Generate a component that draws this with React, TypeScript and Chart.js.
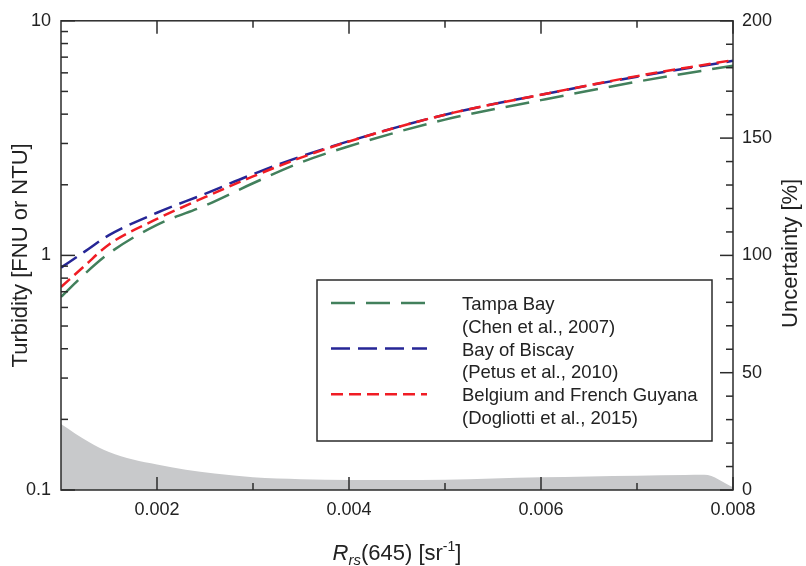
import React, { useEffect, useRef } from 'react';
import { Chart, registerables } from 'chart.js';

Chart.register(...registerables);

// ---- data ----
const rrsGrid = [0.001, 0.00125, 0.0015, 0.002, 0.0025, 0.003, 0.0035, 0.004, 0.005, 0.006, 0.007, 0.008];
const tampaBay = [0.665, 0.836, 1.02, 1.35, 1.63, 2.03, 2.49, 2.92, 3.79, 4.59, 5.5, 6.44];
const bayOfBiscay = [0.887, 1.04, 1.22, 1.52, 1.83, 2.22, 2.64, 3.07, 3.98, 4.84, 5.78, 6.75];
const belgiumGuyana = [0.733, 0.906, 1.114, 1.43, 1.77, 2.17, 2.61, 3.06, 3.98, 4.84, 5.81, 6.8];

const uncRrs = [0.001, 0.00115, 0.0013, 0.0015, 0.00175, 0.002, 0.0023, 0.0026, 0.003, 0.0035, 0.004, 0.0045, 0.005, 0.0055, 0.006, 0.0065, 0.007, 0.0075, 0.0077, 0.008];
const uncertainty = [28.1, 24, 20.3, 16.2, 13, 10.9, 8.6, 7, 5.4, 4.6, 4.3, 4.3, 4.4, 4.9, 5.4, 5.8, 6.1, 6.4, 6.5, 1.2];

const xTickLabels = [0.002, 0.004, 0.006, 0.008];
const xMinorTicks = [0.003, 0.005, 0.007];
const leftTickLabels = [0.1, 1, 10];
const leftMinorTicks = [0.2, 0.3, 0.4, 0.5, 0.6, 0.7, 0.8, 0.9, 2, 3, 4, 5, 6, 7, 8, 9];
const rightTickLabels = [0, 50, 100, 150, 200];
const rightMinorTicks = [10, 20, 30, 40, 60, 70, 80, 90, 110, 120, 130, 140, 160, 170, 180, 190];

const legendTitles = ['Tampa Bay', 'Bay of Biscay', 'Belgium and French Guyana'];
const legendRefs = ['(Chen et al., 2007)', '(Petus et al., 2010)', '(Dogliotti et al., 2015)'];

const GREEN = 'rgb(66,128,92)';
const BLUE = 'rgb(38,38,150)';
const RED = 'rgb(240,28,36)';
const GRAY = 'rgb(200,201,203)';
const AXIS = '#2b2b2b';
const TEXT = '#222222';
const FAMILY = '"Liberation Sans", Arial, Helvetica, sans-serif';

const dashes = [
  [24, 11],
  [19, 8],
  [12, 6],
];
const colors = [GREEN, BLUE, RED];

const toPts = (xs: number[], ys: number[]) => xs.map((x, i) => ({ x, y: ys[i] }));

const decorPlugin = {
  id: 'decor',
  afterDraw(chart: any) {
    const { ctx, chartArea: a, scales } = chart;
    const sx = scales.x;
    const sl = scales.y;
    const sr = scales.y2;
    ctx.save();
    ctx.strokeStyle = AXIS;
    ctx.lineWidth = 1.5;
    const line = (x1: number, y1: number, x2: number, y2: number) => {
      ctx.beginPath();
      ctx.moveTo(x1, y1);
      ctx.lineTo(x2, y2);
      ctx.stroke();
    };
    ctx.strokeRect(a.left, a.top, a.right - a.left, a.bottom - a.top);
    // x ticks (bottom and top, inward)
    xTickLabels.forEach((v) => {
      const p = sx.getPixelForValue(v);
      line(p, a.bottom, p, a.bottom - 13);
      line(p, a.top, p, a.top + 13);
    });
    xMinorTicks.forEach((v) => {
      const p = sx.getPixelForValue(v);
      line(p, a.bottom, p, a.bottom - 7);
      line(p, a.top, p, a.top + 7);
    });
    // left log ticks
    leftTickLabels.forEach((v) => {
      const p = sl.getPixelForValue(v);
      line(a.left, p, a.left + 14, p);
    });
    leftMinorTicks.forEach((v) => {
      const p = sl.getPixelForValue(v);
      line(a.left, p, a.left + 7, p);
    });
    // right ticks
    rightTickLabels.forEach((v) => {
      const p = sr.getPixelForValue(v);
      line(a.right, p, a.right - 13, p);
    });
    rightMinorTicks.forEach((v) => {
      const p = sr.getPixelForValue(v);
      line(a.right, p, a.right - 7, p);
    });

    // legend
    const lx = 317, ly = 280, lw = 395, lh = 161;
    ctx.fillStyle = '#ffffff';
    ctx.fillRect(lx, ly, lw, lh);
    ctx.strokeStyle = AXIS;
    ctx.lineWidth = 1.5;
    ctx.strokeRect(lx, ly, lw, lh);
    ctx.font = `18.5px ${FAMILY}`;
    ctx.textAlign = 'left';
    ctx.textBaseline = 'alphabetic';
    legendTitles.forEach((t, i) => {
      const base = 310 + i * 45.6;
      ctx.save();
      ctx.strokeStyle = colors[i];
      ctx.lineWidth = 2.5;
      ctx.setLineDash(dashes[i]);
      ctx.lineCap = 'butt';
      line(331, base - 7, 427, base - 7);
      ctx.restore();
      ctx.fillStyle = TEXT;
      ctx.fillText(t, 462, base);
      ctx.fillText(legendRefs[i], 462, base + 22.8);
    });

    // axis titles
    ctx.fillStyle = TEXT;
    ctx.font = `22px ${FAMILY}`;
    ctx.textAlign = 'center';
    ctx.save();
    ctx.translate(27, (a.top + a.bottom) / 2);
    ctx.rotate(-Math.PI / 2);
    ctx.fillText('Turbidity [FNU or NTU]', 0, 0);
    ctx.restore();
    ctx.save();
    ctx.translate(797, (a.top + a.bottom) / 2 - 2);
    ctx.rotate(-Math.PI / 2);
    ctx.fillText('Uncertainty [%]', 0, 0);
    ctx.restore();

    // x title with italic R, subscript rs, superscript -1
    const parts = [
      { t: 'R', f: `italic 22px ${FAMILY}`, dy: 0 },
      { t: 'rs', f: `italic 15px ${FAMILY}`, dy: 5 },
      { t: '(645) [sr', f: `22px ${FAMILY}`, dy: 0 },
      { t: '-1', f: `14px ${FAMILY}`, dy: -9 },
      { t: ']', f: `22px ${FAMILY}`, dy: 0 },
    ];
    let total = 0;
    parts.forEach((p) => {
      ctx.font = p.f;
      total += ctx.measureText(p.t).width;
    });
    let cx = (a.left + a.right) / 2 - total / 2;
    ctx.textAlign = 'left';
    parts.forEach((p) => {
      ctx.font = p.f;
      ctx.fillText(p.t, cx, 560 + p.dy);
      cx += ctx.measureText(p.t).width;
    });
    ctx.restore();
  },
};

export default function App() {
  const ref = useRef<HTMLCanvasElement | null>(null);
  useEffect(() => {
    if (!ref.current) return;
    const tickFont = { family: FAMILY, size: 18 };
    const chart = new Chart(ref.current, {
      type: 'line',
      data: {
        datasets: [
          {
            label: legendTitles[2],
            data: toPts(rrsGrid, belgiumGuyana),
            yAxisID: 'y',
            borderColor: RED,
            borderWidth: 2.5,
            borderDash: dashes[2],
            pointRadius: 0,
            cubicInterpolationMode: 'monotone',
            fill: false,
            order: 0,
          },
          {
            label: legendTitles[1],
            data: toPts(rrsGrid, bayOfBiscay),
            yAxisID: 'y',
            borderColor: BLUE,
            borderWidth: 2.5,
            borderDash: dashes[1],
            pointRadius: 0,
            cubicInterpolationMode: 'monotone',
            fill: false,
            order: 1,
          },
          {
            label: legendTitles[0],
            data: toPts(rrsGrid, tampaBay),
            yAxisID: 'y',
            borderColor: GREEN,
            borderWidth: 2.5,
            borderDash: dashes[0],
            pointRadius: 0,
            cubicInterpolationMode: 'monotone',
            fill: false,
            order: 2,
          },
          {
            label: 'Uncertainty',
            data: toPts(uncRrs, uncertainty),
            yAxisID: 'y2',
            borderWidth: 0,
            borderColor: GRAY,
            backgroundColor: GRAY,
            pointRadius: 0,
            fill: 'origin',
            cubicInterpolationMode: 'monotone',
            order: 3,
          },
        ],
      },
      options: {
        responsive: false,
        animation: false,
        layout: { padding: { top: 20, left: 0, right: 0, bottom: 0 } },
        plugins: { legend: { display: false }, tooltip: { enabled: false } },
        scales: {
          x: {
            type: 'linear',
            min: 0.001,
            max: 0.008,
            grid: { display: false, drawTicks: false },
            border: { display: false },
            afterFit: (s: any) => { s.height = 76; },
            afterBuildTicks: (s: any) => { s.ticks = xTickLabels.map((v) => ({ value: v })); },
            ticks: {
              padding: 9,
              font: tickFont,
              color: TEXT,
              maxRotation: 0,
              autoSkip: false,
              callback: (v: any) => Number(v).toFixed(3),
            },
          },
          y: {
            type: 'logarithmic',
            position: 'left',
            min: 0.1,
            max: 10,
            grid: { display: false, drawTicks: false },
            border: { display: false },
            afterFit: (s: any) => { s.width = 61; },
            afterBuildTicks: (s: any) => { s.ticks = leftTickLabels.map((v) => ({ value: v })); },
            ticks: { padding: 10, font: tickFont, color: TEXT, callback: (v: any) => String(v) },
          },
          y2: {
            type: 'linear',
            position: 'right',
            min: 0,
            max: 200,
            grid: { display: false, drawTicks: false },
            border: { display: false },
            afterFit: (s: any) => { s.width = 73; },
            afterBuildTicks: (s: any) => { s.ticks = rightTickLabels.map((v) => ({ value: v })); },
            ticks: { padding: 9, font: tickFont, color: TEXT, callback: (v: any) => String(v) },
          },
        },
      },
      plugins: [decorPlugin],
    } as any);
    return () => chart.destroy();
  }, []);
  return (
    <div style={{ position: 'absolute', left: 0, top: 0, width: 806, height: 566, background: '#fff' }}>
      <canvas ref={ref} width={806} height={566} style={{ display: 'block', width: 806, height: 566 }} />
    </div>
  );
}
